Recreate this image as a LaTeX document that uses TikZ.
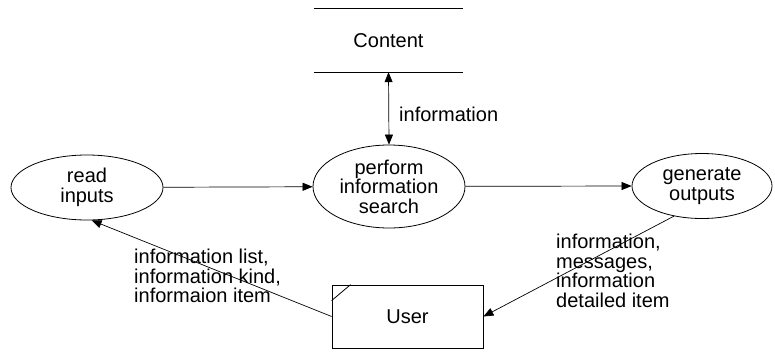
\documentclass[tikz,border=0pt]{standalone}
\usepackage{fontspec}
\setmainfont{Liberation Sans}
\usetikzlibrary{shapes.geometric, arrows.meta, positioning}

\begin{document}
\begin{tikzpicture}[
    x=1pt, y=-1pt,
    font=\fontsize{20}{19.5}\selectfont,
    proc/.style={ellipse, draw, line width=0.8pt, inner sep=0pt, align=center},
    store/.style={rectangle, minimum width=149pt, minimum height=63pt},
    ext/.style={rectangle, draw, line width=0.8pt, minimum width=151pt, minimum height=63pt},
    lbl/.style={align=left, inner sep=0pt},
    arr/.style={-{Triangle[length=10pt, width=8pt]}, line width=0.7pt}
]
\useasboundingbox (0,0) rectangle (775,351);

\node[store] (content) at (388.5,40.5) {Content};
\draw[line width=0.8pt] (content.north west) -- (content.north east);
\draw[line width=0.8pt] (content.south west) -- (content.south east);

\node[proc, minimum width=152pt, minimum height=65pt] (read) at (87,187.5) {read\\inputs};
\node[proc, minimum width=152pt, minimum height=83pt] (search) at (389,186.5) {perform\\information\\search};
\node[proc, minimum width=140pt, minimum height=65pt] (generate) at (702,186) {generate\\outputs};

\node[ext] (user) at (407.5,316.5) {User};
\draw[line width=0.8pt] ([yshift=-16pt]user.north west) -- ([xshift=19pt]user.north west);

\node[lbl, anchor=west] (lblinfo) at (399,114) {information};
\node[lbl, anchor=west] (lblin) at (134,276) {information list,\\information kind,\\informaion item};
\node[lbl, anchor=west] (lblout) at (556,271) {information,\\messages,\\information\\detailed item};

\draw[arr, {Triangle[length=10pt, width=8pt]}-{Triangle[length=10pt, width=8pt]}] (content.south) -- (search.north);
\draw[arr] (read) -- (search);
\draw[arr] (search) -- (generate.west);
\draw[arr] (generate.-133) -- (user.east);
\draw[arr] (user.west) -- (read.-82);

\end{tikzpicture}
\end{document}
